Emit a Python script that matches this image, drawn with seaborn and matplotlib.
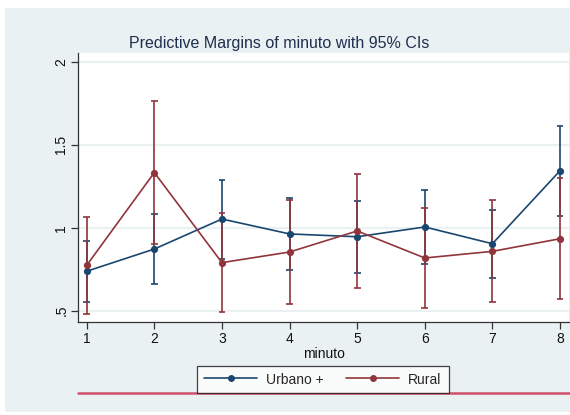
import matplotlib
matplotlib.use("Agg")
import matplotlib.pyplot as plt
from matplotlib.patches import Rectangle
from matplotlib.lines import Line2D
import numpy as np
import pandas as pd
import seaborn as sns

# Predictive margins by minute, with 95% confidence limits
minuto = [1, 2, 3, 4, 5, 6, 7, 8]

urbano_margin = [0.738, 0.872, 1.053, 0.963, 0.946, 1.005, 0.904, 1.344]
urbano_lower = [0.554, 0.659, 0.814, 0.744, 0.729, 0.782, 0.697, 1.069]
urbano_upper = [0.919, 1.085, 1.286, 1.182, 1.160, 1.228, 1.107, 1.616]

rural_margin = [0.774, 1.333, 0.790, 0.854, 0.981, 0.818, 0.858, 0.934]
rural_lower = [0.480, 0.900, 0.490, 0.540, 0.635, 0.516, 0.552, 0.572]
rural_upper = [1.063, 1.765, 1.091, 1.166, 1.325, 1.121, 1.166, 1.302]

y_ticks = [0.5, 1.0, 1.5, 2.0]
y_tick_labels = [".5", "1", "1.5", "2"]
series_names = ["Urbano +", "Rural"]

NAVY = "#1A476F"
MAROON = "#90353B"
BG = "#EAF1F3"

sns.set_theme(style="white")
plt.rcParams["font.family"] = ["Liberation Sans", "DejaVu Sans"]

df = pd.concat([
    pd.DataFrame({"minuto": minuto, "margin": urbano_margin,
                  "lo": urbano_lower, "hi": urbano_upper, "grupo": series_names[0]}),
    pd.DataFrame({"minuto": minuto, "margin": rural_margin,
                  "lo": rural_lower, "hi": rural_upper, "grupo": series_names[1]}),
], ignore_index=True)

fig = plt.figure(figsize=(5.7, 4.15), dpi=100)
fig.patch.set_facecolor("white")
# light graph-region panel
fig.patches.append(Rectangle((5 / 570, 3 / 415), 1 - 5 / 570, 404 / 415,
                             transform=fig.transFigure, facecolor=BG,
                             edgecolor="none", zorder=-10))

ax = fig.add_axes([78 / 570, 93 / 415, 491 / 570, 269 / 415])
ax.set_facecolor("white")

palette = {series_names[0]: NAVY, series_names[1]: MAROON}

# confidence intervals with caps
for name, color in palette.items():
    sub = df[df["grupo"] == name]
    ax.vlines(sub["minuto"], sub["lo"], sub["hi"], color=color, lw=1.2, zorder=3)
    ax.hlines(sub["lo"], sub["minuto"] - 0.05, sub["minuto"] + 0.05, color=color, lw=1.2, zorder=3)
    ax.hlines(sub["hi"], sub["minuto"] - 0.05, sub["minuto"] + 0.05, color=color, lw=1.2, zorder=3)

sns.lineplot(data=df, x="minuto", y="margin", hue="grupo", palette=palette,
             hue_order=series_names, marker="o", markersize=5.2,
             markeredgewidth=0, linewidth=1.2, errorbar=None, ax=ax,
             legend=False, zorder=4)

ax.set_xlim(0.871, 8.133)
ax.set_ylim(0.432, 2.054)
ax.set_xticks(minuto)
ax.set_xticklabels([str(m) for m in minuto])
ax.set_yticks(y_ticks)
ax.set_yticklabels(y_tick_labels, rotation=90, va="center")
for y in y_ticks:
    ax.axhline(y, color=BG, lw=1.5, zorder=1)

for side in ["top", "right"]:
    ax.spines[side].set_visible(False)
for side in ["left", "bottom"]:
    ax.spines[side].set_color("#333333")
    ax.spines[side].set_linewidth(0.9)

ax.tick_params(axis="both", which="major", direction="out", length=5, width=0.9,
               color="#333333", labelsize=10, labelcolor="#111111", pad=2,
               bottom=True, left=True)
ax.set_xlabel("minuto", fontsize=10, color="#111111", labelpad=1)
ax.set_ylabel("")

fig.text(0.49, 0.896, "Predictive Margins of minuto with 95% CIs",
         ha="center", va="center", fontsize=11.5, color="#1E2F4F")

handles = [Line2D([], [], color=palette[n], lw=1.2, marker="o", markersize=5,
                  markeredgewidth=0) for n in series_names]
leg = fig.legend(handles, series_names, loc="center", ncol=2,
                 bbox_to_anchor=(323 / 570, 35.5 / 415), frameon=True,
                 fontsize=10, handlelength=3.8, columnspacing=1.6,
                 handletextpad=0.67, borderpad=0.5, borderaxespad=0,
                 fancybox=False, handleheight=0.9)
leg.get_frame().set_edgecolor("#111111")
leg.get_frame().set_linewidth(0.9)

# accent rule under the legend
fig.add_artist(Line2D([78 / 570, 1.0], [22 / 415, 22 / 415], transform=fig.transFigure,
                      color="#D0506A", lw=1.8, zorder=1))

fig.savefig("out.png", dpi=100, facecolor="white")
